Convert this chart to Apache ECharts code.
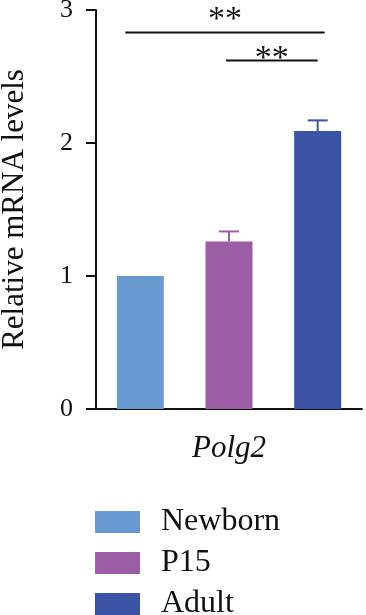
<!DOCTYPE html>
<html>
<head>
<meta charset="utf-8">
<script src="https://cdn.jsdelivr.net/npm/echarts@6/dist/echarts.min.js"></script>
<style>html,body{margin:0;padding:0;background:#fff}#c{width:366px;height:615px}</style>
</head>
<body>
<div id="c"></div>
<script>
var groups = ['Newborn', 'P15', 'Adult'];
var means = [1.0, 1.26, 2.09];
var errors = [0, 0.075, 0.08];
var colors = ['#6899d1', '#9b5ea5', '#3a53a4'];
var yTicks = [0, 1, 2, 3];
var geneName = 'Polg2';
var sigPairs = [[0, 2], [1, 2]];
var sigLevels = [2.83, 2.62];
var sigStarLevels = [2.99, 2.70];
var sigLabels = ['**', '**'];

var FONT = '"Liberation Serif", "Times New Roman", serif';
var chart = echarts.init(document.getElementById('c'), null, {renderer: 'canvas'});

var series = groups.map(function (g, i) {
  return {
    name: g,
    type: 'bar',
    barWidth: 47,
    barGap: '-100%',
    itemStyle: {color: colors[i]},
    data: means.map(function (v, j) { return j === i ? v : '-'; }),
    z: 2
  };
});

series.push({
  type: 'custom',
  name: 'err',
  z: 3,
  data: means.map(function (m, i) { return [i, m, errors[i]]; }),
  renderItem: function (params, api) {
    var i = api.value(0), m = api.value(1), e = api.value(2);
    if (!e) return null;
    var p0 = api.coord([i, m]);
    var p1 = api.coord([i, m + e]);
    var half = 10;
    var col = colors[i];
    return {
      type: 'group',
      children: [
        {type: 'line', shape: {x1: p0[0], y1: p0[1], x2: p1[0], y2: p1[1]}, style: {stroke: col, lineWidth: 2}},
        {type: 'line', shape: {x1: p1[0] - half, y1: p1[1], x2: p1[0] + half, y2: p1[1]}, style: {stroke: col, lineWidth: 2}}
      ]
    };
  }
});

series.push({
  type: 'custom',
  name: 'sig',
  z: 3,
  clip: false,
  data: sigPairs.map(function (p, k) { return [p[0], p[1], sigLevels[k], sigStarLevels[k], k]; }),
  renderItem: function (params, api) {
    var a = api.value(0), b = api.value(1), y = api.value(2), ys = api.value(3), k = api.value(4);
    var pa = api.coord([a, y]);
    var pb = api.coord([b, y]);
    var ps = api.coord([a, ys]);
    var x1 = k === 0 ? pa[0] - 15 : pa[0] - 3;
    var x2 = k === 0 ? pb[0] + 7 : pb[0];
    return {
      type: 'group',
      children: [
        {type: 'line', shape: {x1: x1, y1: pa[1], x2: x2, y2: pa[1]}, style: {stroke: '#111', lineWidth: 2}},
        {type: 'text', x: (x1 + x2) / 2, y: ps[1] + 9,
         style: {text: sigLabels[k], font: '34px ' + FONT, fill: '#111', textAlign: 'center', textVerticalAlign: 'middle'}}
      ]
    };
  }
});

var legends = groups.map(function (g, i) {
  return {
    data: [g],
    orient: 'vertical',
    left: 95,
    top: 506 + i * 41,
    itemWidth: 45,
    itemHeight: 22,
    icon: 'rect',
    padding: 0,
    textStyle: {fontFamily: FONT, fontSize: 32, color: '#111', padding: [0, 0, 0, 16]}
  };
});

chart.setOption({
  animation: false,
  backgroundColor: '#fff',
  grid: {left: 96, right: 4, top: 10, bottom: 206, containLabel: false, outerBoundsMode: 'none'},
  xAxis: {
    type: 'category',
    data: groups,
    name: geneName,
    nameLocation: 'middle',
    nameGap: 24,
    nameTextStyle: {fontFamily: FONT, fontStyle: 'italic', fontSize: 31, color: '#111'},
    axisLine: {lineStyle: {color: '#111', width: 2}},
    axisTick: {alignWithLabel: true, length: 11, lineStyle: {color: '#111', width: 2}},
    axisLabel: {show: false}
  },
  yAxis: {
    type: 'value',
    min: 0, max: 3, interval: 1,
    name: 'Relative mRNA levels',
    nameLocation: 'middle',
    nameGap: 66,
    nameTextStyle: {fontFamily: FONT, fontSize: 31, color: '#111'},
    axisLine: {show: true, lineStyle: {color: '#111', width: 2}},
    axisTick: {show: true, length: 10, lineStyle: {color: '#111', width: 2}},
    axisLabel: {fontFamily: FONT, fontSize: 26, color: '#111', margin: 23,
      formatter: function (v) { return yTicks.indexOf(v) >= 0 ? String(v) : ''; }},
    splitLine: {show: false}
  },
  legend: legends,
  series: series
});
</script>
</body>
</html>
